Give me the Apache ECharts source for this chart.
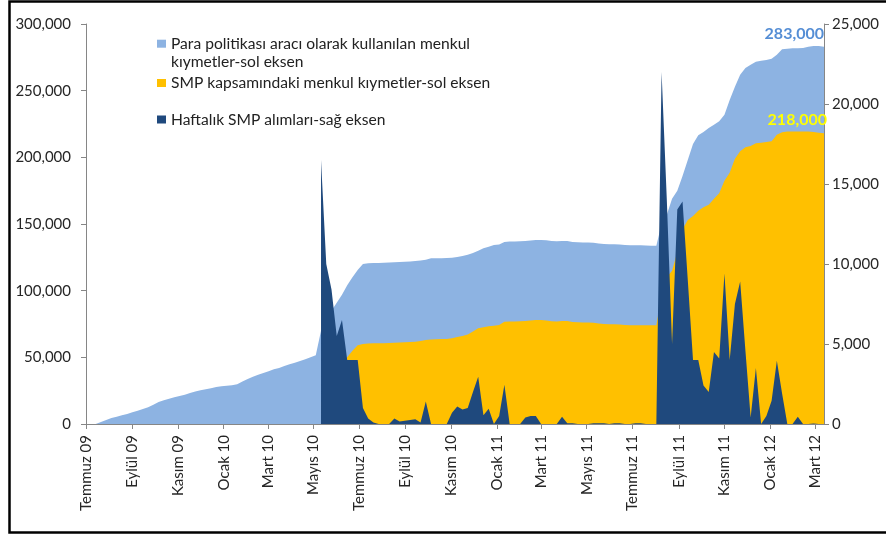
<!DOCTYPE html>
<html>
<head>
<meta charset="utf-8">
<script src="https://cdn.jsdelivr.net/npm/echarts@6/dist/echarts.min.js"></script>
<style>html,body{margin:0;padding:0;background:#fff}#c{width:886px;height:535px}</style>
</head>
<body>
<div id="c"></div>
<script>
// ---- data ----
const axisStart = '2009-07-01';
const axisEnd = '2012-03-13';
const firstWeek = '2009-07-14';          // weekly observations (every 7 days)
const smpFirstWeekIndex = 43;            // SMP starts 2010-05-11
const seriesNames = [
  'Para politikası aracı olarak kullanılan menkul kıymetler-sol eksen',
  'SMP kapsamındaki menkul kıymetler-sol eksen',
  'Haftalık SMP alımları-sağ eksen'
];
const monthNames = ['Ocak','Şubat','Mart','Nisan','Mayıs','Haziran','Temmuz','Ağustos','Eylül','Ekim','Kasım','Aralık'];
const leftTicks = [0, 50000, 100000, 150000, 200000, 250000, 300000];
const rightTicks = [0, 5000, 10000, 15000, 20000, 25000];

// total securities held for monetary policy purposes (left axis)
const totalHoldings = [
  0,1500,3000,4500,5500,6500,7500,8800,10000,11200,12500,14500,16500,17800,19000,20000,21000,22000,23300,24300,
  25300,26000,26800,27800,28300,28600,29000,29800,31800,33800,35500,37000,38300,39500,41000,42000,43500,44800,46000,47300,
  48500,50000,51500,
  70000,78000,85000,91000,97000,104000,110000,115500,120000,
  120500,120700,120800,121000,121100,121300,121500,121700,121900,122200,122700,123200,124300,124400,124400,124500,124700,125200,
  126000,127000,128200,130000,131800,133000,134300,134600,136500,136800,136900,137000,137300,137700,138000,138000,137800,137300,
  137000,137300,137300,136500,136300,136200,136100,136000,135300,135000,134900,134800,134700,134300,134000,134000,134000,133800,
  133700,133700,
  150000,157000,169000,175000,186000,198000,210000,216500,219000,222000,224500,227000,232000,243000,253000,262000,267000,269500,
  271750,272500,273000,274000,277000,281000,281500,281750,281750,282000,283000,283500,283500,283000
];
// SMP holdings (left axis), from smpFirstWeekIndex
const smpHoldings = [
  16500,26500,35000,40500,47000,50000,55000,59000,60000,
  60300,60500,60500,60600,60800,61000,61200,61300,61500,61700,62300,63000,63400,63600,63700,63800,64300,65200,66000,67200,
  69300,71800,72500,73300,73700,74300,76700,76800,76900,77000,77200,77600,78000,78000,77600,77000,76900,77300,77300,76500,
  76300,76200,76100,76000,75300,75000,74900,74800,74700,74300,74000,74000,74000,74000,74000,74000,
  96000,110000,115000,129000,146000,153000,156000,160000,162500,164500,169000,173000,182500,188500,199000,204500,207500,208500,
  210500,211000,211500,212000,217000,218800,219300,219300,219300,219300,219300,219000,218500,218000
];
// weekly SMP purchases (right axis), from smpFirstWeekIndex
const weeklySmp = [
  16500,10000,8400,5500,6500,4000,4000,4000,1000,350,100,0,0,0,350,150,200,250,300,100,1400,0,0,0,0,
  700,1100,900,1000,2000,2950,550,950,0,500,2450,0,0,0,400,500,500,0,0,0,0,450,50,50,0,0,0,50,50,50,0,50,50,0,0,50,50,0,0,0,
  22000,14000,5000,13400,13900,9000,4000,4000,2400,2000,4500,4100,9400,4000,7500,8900,4600,400,3500,0,500,1450,3950,1900,
  0,0,450,0,0,30,0,0
];

// ---- helpers ----
const DAY = 86400000;
function iso(t){ return new Date(t).toISOString().slice(0,10); }
function fmt(v){ return String(v).replace(/\B(?=(\d{3})+(?!\d))/g, ','); }
const days = [];
for (let t = Date.parse(axisStart + 'T00:00:00Z'); t <= Date.parse(axisEnd + 'T00:00:00Z'); t += DAY) days.push(iso(t));
const weekDates = totalHoldings.map((_, i) => iso(Date.parse(firstWeek + 'T00:00:00Z') + i * 7 * DAY));
function isTickDay(idx, val){ const m = +val.slice(5,7); return val.slice(8,10) === '01' && m % 2 === 1; }

function pairs(arr, offset, labelCfg){
  return arr.map((v, i) => {
    const item = { value: [weekDates[i + offset], v] };
    if (labelCfg && i === arr.length - 1) item.label = labelCfg;
    return item;
  });
}

const FONT = 'Lato';
const TXT = '#262626';
const GRAY = '#868686';
const LFS = 15.6;
const LH = 18;

const chart = echarts.init(document.getElementById('c'), null, {renderer: 'canvas'});
const legendCommon = {
  orient: 'vertical', left: 157, padding: 0, itemWidth: 9, itemHeight: 8, icon: 'rect',
  selectedMode: false,
  textStyle: { fontFamily: FONT, fontSize: LFS, color: '#222', lineHeight: LH }
};
const labelBase = {
  show: true, position: 'top', align: 'right', distance: 5,
  formatter: p => fmt(p.value[1]), fontFamily: FONT, fontSize: 16, fontWeight: 'bold'
};
chart.setOption({
  animation: false,
  backgroundColor: '#fff',
  grid: { left: 86, right: 62, top: 24, bottom: 111 },
  legend: [
    Object.assign({}, legendCommon, {
      data: [seriesNames[0]], top: 43.7 - 1.5 * LH,
      formatter: n => '\n' + n.replace(' kıymetler', '\nkıymetler')
    }),
    Object.assign({}, legendCommon, { data: [seriesNames[1]], top: 83 - LH / 2 }),
    Object.assign({}, legendCommon, { data: [seriesNames[2]], top: 119.5 - LH / 2 })
  ],
  xAxis: {
    type: 'category', data: days, boundaryGap: false,
    axisLine: { lineStyle: { color: GRAY, width: 1 } },
    axisTick: { interval: isTickDay, length: 5, lineStyle: { color: GRAY } },
    axisLabel: {
      interval: isTickDay, rotate: 90, margin: 11,
      fontFamily: FONT, fontSize: 15, color: TXT,
      formatter: v => monthNames[+v.slice(5,7) - 1] + ' ' + v.slice(2,4)
    },
    splitLine: { show: false }
  },
  yAxis: [
    {
      type: 'value', min: leftTicks[0], max: leftTicks[leftTicks.length-1], interval: leftTicks[1] - leftTicks[0],
      axisLine: { show: true, lineStyle: { color: GRAY } },
      axisTick: { show: true, length: 5, lineStyle: { color: GRAY } },
      axisLabel: { margin: 15, fontFamily: FONT, fontSize: 15, color: TXT, formatter: fmt },
      splitLine: { show: false }
    },
    {
      type: 'value', position: 'right', min: rightTicks[0], max: rightTicks[rightTicks.length-1], interval: rightTicks[1] - rightTicks[0],
      axisLine: { show: true, lineStyle: { color: GRAY } },
      axisTick: { show: true, length: 5, lineStyle: { color: GRAY } },
      axisLabel: { margin: 8, fontFamily: FONT, fontSize: 15, color: TXT, formatter: fmt },
      splitLine: { show: false }
    }
  ],
  series: [
    {
      name: seriesNames[0], type: 'line', yAxisIndex: 0, showSymbol: true, showAllSymbol: true, symbolSize: 0,
      color: '#8DB3E2', lineStyle: { width: 0 }, areaStyle: { color: '#8DB3E2', opacity: 1 },
      label: { show: false },
      data: pairs(totalHoldings, 0, Object.assign({}, labelBase, { color: '#558ED5' })),
      z: 1
    },
    {
      name: seriesNames[1], type: 'line', yAxisIndex: 0, showSymbol: true, showAllSymbol: true, symbolSize: 0,
      color: '#FFC000', lineStyle: { width: 0 }, areaStyle: { color: '#FFC000', opacity: 1 },
      label: { show: false },
      data: pairs(smpHoldings, smpFirstWeekIndex, Object.assign({}, labelBase, { color: '#FFFF00', offset: [3, 0] })),
      z: 2
    },
    {
      name: seriesNames[2], type: 'line', yAxisIndex: 1, showSymbol: false, symbol: 'none',
      color: '#1F497D', lineStyle: { width: 0 }, areaStyle: { color: '#1F497D', opacity: 1 },
      data: pairs(weeklySmp, smpFirstWeekIndex),
      z: 3
    }
  ],
  graphic: [{
    type: 'rect', silent: true, z: 100,
    shape: { x: 9.5, y: 1.5, width: 900, height: 531 },
    style: { fill: 'none', stroke: '#000', lineWidth: 2.5 }
  }]
});
</script>
</body>
</html>
